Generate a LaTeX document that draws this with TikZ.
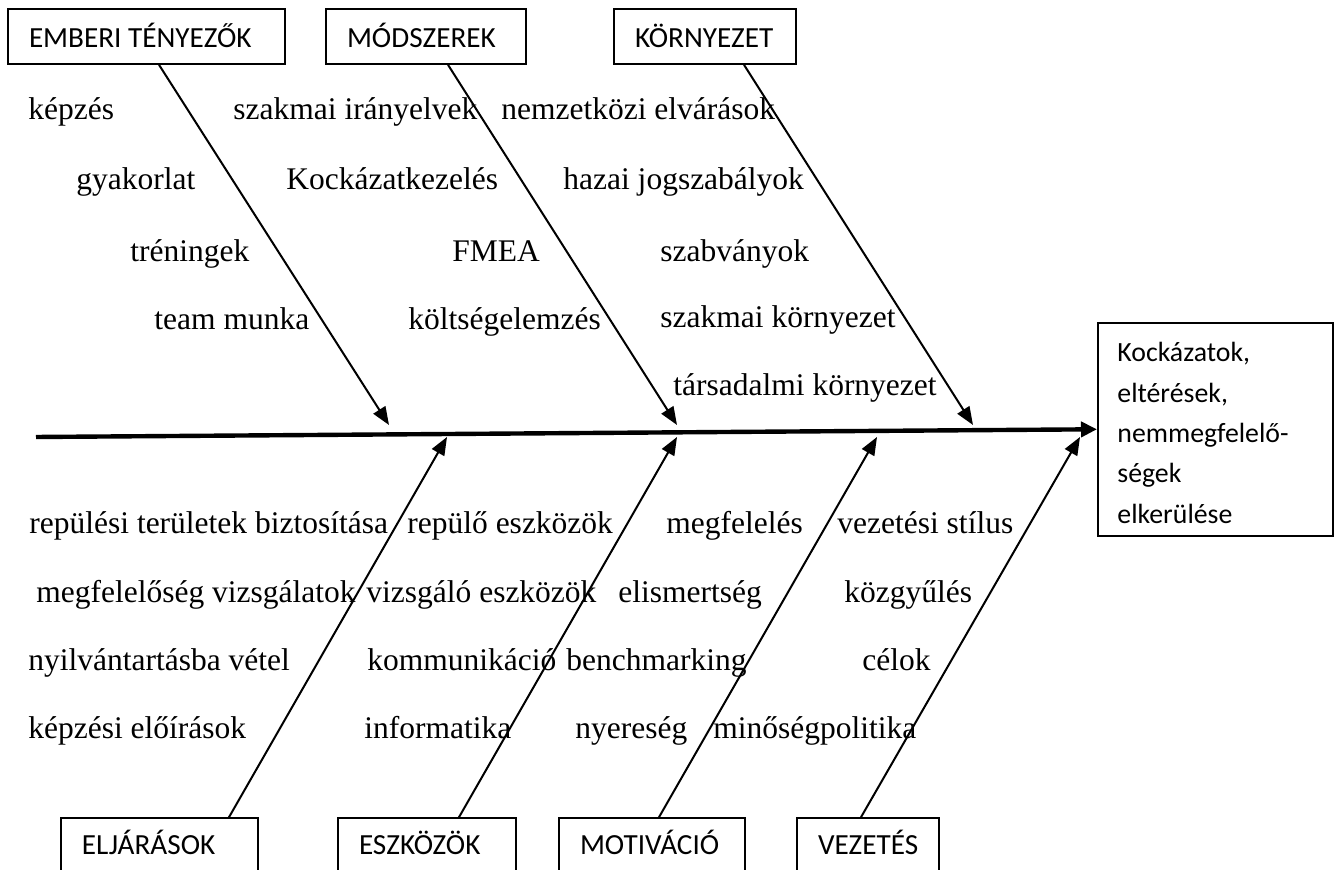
\documentclass[tikz,border=0pt]{standalone}
\usepackage{fontspec}
\setmainfont{Liberation Serif}
\newfontfamily\calib{Carlito}
\usetikzlibrary{arrows.meta}
\tikzset{
  catbox/.style={draw, line width=0.8pt, inner xsep=10.5pt, inner ysep=0pt, anchor=base,
    align=flush left, font=\calib\fontsize{14.6}{17}\selectfont},
  topbox/.style={catbox, text height=19.5pt, text depth=8pt},
  botbox/.style={catbox, text height=18.5pt, text depth=20pt},
  lbl/.style={anchor=base west, inner sep=0pt, font=\fontsize{15.75}{18}\selectfont},
  branch/.style={line width=1pt, -{Triangle[length=9pt,width=7pt]}},
  spine/.style={line width=2.2pt, -{Triangle[length=8pt,width=7.5pt]}}
}
\begin{document}
\begin{tikzpicture}[x=0.5pt,y=-0.5pt]
\clip (0,0) rectangle (1335,870);
\fill[white] (0,0) rectangle (1335,870);
% category boxes (text width = box width - 21px)
\node[topbox, text width=117.5pt] (emb) at (146.5,48) {\mbox{EMBERI TÉNYEZŐK}};
\node[topbox, text width=79pt] (mod) at (426,48) {\mbox{MÓDSZEREK}};
\node[topbox, text width=70pt] (kor) at (705,48) {\mbox{KÖRNYEZET}};
\node[botbox, text width=77.5pt] (elj) at (159.5,855) {\mbox{ELJÁRÁSOK}};
\node[botbox, text width=68pt] (esz) at (427,855) {\mbox{ESZKÖZÖK}};
\node[botbox, text width=72pt] (mot) at (652,855) {\mbox{MOTIVÁCIÓ}};
\node[botbox, text width=50pt] (vez) at (868,855) {\mbox{VEZETÉS}};
% result box
\node[draw, line width=0.8pt, minimum width=117.5pt, minimum height=106.5pt, anchor=north west, inner sep=0pt] (res) at (1097,322) {};
\node[anchor=base west, inner sep=0pt, text width=110pt, align=flush left, font=\calib\fontsize{13.9}{20.15}\selectfont] (restext) at (1117,362)
  {Kockázatok,\\eltérések,\\nemmegfelelő-\\ségek\\elkerülése};
% spine
\coordinate (sp) at (36,437);
\draw[spine] (sp) -- (res.west);
% arrow tips
\coordinate (t1) at (389,425);
\coordinate (t2) at (677,425);
\coordinate (t3) at (973,425);
\coordinate (b1) at (447,437);
\coordinate (b2) at (677,437);
\coordinate (b3) at (877,437);
\coordinate (b4) at (1080,437);
\draw[branch] ([xshift=6.25pt]emb.south) -- (t1);
\draw[branch] ([xshift=11pt]mod.south) -- (t2);
\draw[branch] ([xshift=19.5pt]kor.south) -- (t3);
\draw[branch] ([xshift=34.75pt]elj.north) -- (b1);
\draw[branch] ([xshift=16pt]esz.north) -- (b2);
\draw[branch] ([xshift=3.5pt]mot.north) -- (b3);
\draw[branch] ([xshift=-3.5pt]vez.north) -- (b4);
% upper labels
\node[lbl] (u11) at (28,120) {képzés};
\node[lbl] (u12) at (233,120) {szakmai irányelvek};
\node[lbl] (u13) at (501,120) {nemzetközi elvárások};
\node[lbl] (u21) at (76,190) {gyakorlat};
\node[lbl] (u22) at (286,190) {Kockázatkezelés};
\node[lbl] (u23) at (563,190) {hazai jogszabályok};
\node[lbl] (u31) at (130,262) {tréningek};
\node[lbl] (u32) at (452,262) {FMEA};
\node[lbl] (u33) at (660,262) {szabványok};
\node[lbl] (u41) at (154,330) {team munka};
\node[lbl] (u42) at (408,330) {költségelemzés};
\node[lbl] (u43) at (660,328) {szakmai környezet};
\node[lbl] (u53) at (673,396) {társadalmi környezet};
% lower labels
\node[lbl] (l11) at (29,534) {repülési területek biztosítása};
\node[lbl] (l12) at (407,534) {repülő eszközök};
\node[lbl] (l13) at (666,534) {megfelelés};
\node[lbl] (l14) at (837,534) {vezetési stílus};
\node[lbl] (l21) at (36,603) {megfelelőség vizsgálatok};
\node[lbl] (l22) at (366,603) {vizsgáló eszközök};
\node[lbl] (l23) at (618,603) {elismertség};
\node[lbl] (l24) at (844,603) {közgyűlés};
\node[lbl] (l31) at (28,671) {nyilvántartásba vétel};
\node[lbl] (l32) at (367,671) {kommunikáció};
\node[lbl] (l33) at (566,671) {benchmarking};
\node[lbl] (l34) at (862,671) {célok};
\node[lbl] (l41) at (28,739) {képzési előírások};
\node[lbl] (l42) at (364,739) {informatika};
\node[lbl] (l43) at (575,739) {nyereség};
\node[lbl] (l44) at (713,739) {minőségpolitika};
\end{tikzpicture}
\end{document}
